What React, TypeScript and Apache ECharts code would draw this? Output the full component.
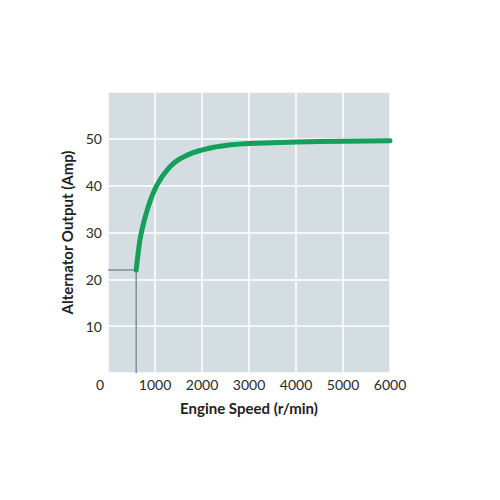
import React, { useEffect, useRef } from "react";
import * as echarts from "echarts";

const xTicks = [0, 1000, 2000, 3000, 4000, 5000, 6000];
const yTicks = [0, 10, 20, 30, 40, 50, 60];
const rpm = [600, 650, 700, 800, 900, 1000, 1100, 1200, 1400, 1600, 1800, 2000, 2250, 2500, 3000, 4000, 5000, 6000];
const amps = [22, 26.3, 29.5, 33.6, 36.8, 39.3, 41.1, 42.6, 44.8, 46.1, 47.0, 47.6, 48.2, 48.6, 49.0, 49.3, 49.5, 49.6];
const cutInRpm = 600;
const cutInAmp = 22;

export default function App() {
  const ref = useRef<HTMLDivElement>(null);
  useEffect(() => {
    if (!ref.current) return;
    const chart = echarts.init(ref.current, undefined, { renderer: "svg" });
    const font = "Lato, 'Open Sans', sans-serif";
    chart.setOption({
      animation: false,
      backgroundColor: "#ffffff",
      grid: {
        left: 108,
        right: 110,
        top: 92,
        bottom: 127,
        show: true,
        backgroundColor: "#d3dde2",
        borderWidth: 0,
      },
      xAxis: {
        type: "value",
        min: xTicks[0],
        max: xTicks[xTicks.length - 1],
        interval: 1000,
        name: "Engine Speed (r/min)",
        nameLocation: "middle",
        nameGap: 27,
        nameTextStyle: { fontFamily: font, fontSize: 15, fontWeight: "bold", color: "#222" },
        axisLine: { show: false },
        axisTick: { show: false },
        axisLabel: {
          fontFamily: font,
          fontSize: 14,
          color: "#2a2a2a",
          margin: 4,
          formatter: (v: number) => (v === 0 ? "{z|0}" : String(v)),
          rich: { z: { fontFamily: font, fontSize: 14, color: "#2a2a2a", padding: [0, 16, 0, 0] } },
        },
        splitLine: { show: true, lineStyle: { color: "#ffffff", width: 1.5 } },
      },
      yAxis: {
        type: "value",
        min: yTicks[0],
        max: yTicks[yTicks.length - 1],
        interval: 10,
        name: "Alternator Output (Amp)",
        nameLocation: "middle",
        nameGap: 32,
        nameRotate: 90,
        nameTextStyle: { fontFamily: font, fontSize: 15, fontWeight: "bold", color: "#222" },
        axisLine: { show: false },
        axisTick: { show: false },
        axisLabel: {
          fontFamily: font,
          fontSize: 14,
          color: "#2a2a2a",
          margin: 6,
          formatter: (v: number) => (v === 0 || v === 60 ? "" : String(v)),
        },
        splitLine: { show: true, lineStyle: { color: "#ffffff", width: 1.5 } },
      },
      series: [
        {
          type: "line",
          data: [
            [0, cutInAmp],
            [cutInRpm, cutInAmp],
            [cutInRpm, 0],
          ],
          symbol: "none",
          lineStyle: { color: "#7a909d", width: 1.5 },
          z: 2,
        },
        {
          type: "line",
          data: rpm.map((r, i) => [r, amps[i]]),
          smooth: 0.5,
          symbol: "none",
          lineStyle: { color: "#14a05a", width: 5, cap: "round" },
          z: 3,
        },
      ],
    });
    return () => chart.dispose();
  }, []);
  return <div ref={ref} style={{ width: 500, height: 500, margin: -8 }} />;
}
